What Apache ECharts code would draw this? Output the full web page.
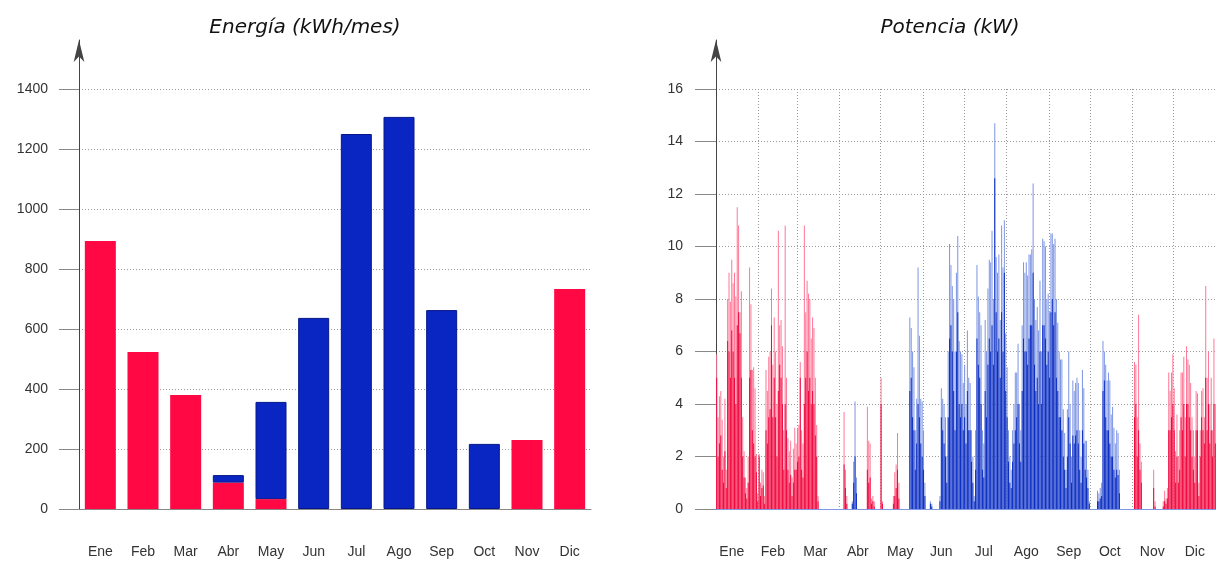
<!DOCTYPE html>
<html>
<head>
<meta charset="utf-8">
<script src="https://cdn.jsdelivr.net/npm/echarts@6/dist/echarts.min.js"></script>
<style>
  html, body { margin: 0; padding: 0; background: #fff; }
  #main { width: 1216px; height: 561px; }
</style>
</head>
<body>
<div id="main"></div>
<script>
// energía mensual (kWh/mes): calefacción (rojo) y refrigeración (azul)
var months = ['Ene', 'Feb', 'Mar', 'Abr', 'May', 'Jun', 'Jul', 'Ago', 'Sep', 'Oct', 'Nov', 'Dic'];
var heatEnergy = [893, 523, 380, 88, 33, 0, 0, 0, 0, 0, 230, 733];
var coolEnergy = [0, 0, 0, 25, 324, 637, 1250, 1307, 663, 217, 0, 0];

// potencia diaria (kW): pico del día y nivel más frecuente
var monthStartDays = [0, 31, 59, 90, 120, 151, 181, 212, 243, 273, 304, 334];
var monthLabelDays = [11, 41, 72, 103, 134, 164, 195, 226, 257, 287, 318, 349];
var coolingSpans = [[99, 103], [139, 300]];

var peakPower = [
  5.9,3.5,4.3,4.5,3.4,2.0,4.2,1.5,8.0,9.0,7.9,9.5,8.6,9.0,8.1,11.5,10.8,7.5,8.3,3.5,2.2,1.2,0.8,2.0,9.2,7.8,5.3,5.4,4.6,2.1,0.6, // Ene
  2.1,1.0,1.5,1.4,0.5,5.3,4.5,5.8,6.0,8.4,5.5,7.3,6.0,4.0,10.6,7.0,7.2,6.2,3.0,10.8,5.0,2.7,2.2,2.6,1.2,2.3,3.1,2.5, // Feb
  3.1,3.2,5.6,3.0,2.5,10.8,7.5,8.7,8.2,8.0,6.5,7.3,6.9,5.0,3.2,0.5,0,0,0,0,0,0,0,0,0,0,0,0,0,0,0, // Mar
  0,0,0,3.7,1.5,0.5,0,0,0,0.3,1.8,4.1,1.2,0,0,0,0,0,0,0,3.9,2.6,2.5,0.4,0.5,0.3,0,0,0,0, // Abr
  5.0,0.3,0,0,0,0,0,0,0,0.5,1.4,1.7,2.9,1.0,0,0,0,0,0,0,0,7.3,6.9,6.0,5.4,3.0,4.2,9.2,6.6,4.2,4.1, // May
  3.0,1.0,0,0,0,0.3,0.2,0,0,0,0,0,0.5,4.6,4.2,4.0,3.5,2.0,6.0,10.1,9.3,8.5,8.0,6.0,9.0,10.4,6.4,6.0,5.9,4.8, // Jun
  5.5,4.0,6.8,5.0,4.8,3.0,2.0,0.5,3.0,9.3,8.1,7.5,7.0,3.0,2.5,7.2,6.0,8.4,9.5,9.4,10.6,8.0,14.7,9.6,9.0,9.7,7.2,10.8,9.2,11.0,6.7, // Jul
  5.4,3.0,2.0,1.5,3.0,4.0,5.2,5.2,6.3,4.0,3.0,7.0,9.4,9.0,9.4,8.9,9.7,9.7,9.9,12.4,8.0,7.2,7.7,6.8,8.7,6.0,10.3,10.2,10.0,8.0,8.2, // Ago
  7.5,10.5,10.5,10.1,10.3,8.0,7.1,6.0,5.7,5.7,3.8,2.9,1.5,3.8,6.0,4.0,2.0,4.9,4.5,4.8,5.0,4.8,3.0,2.0,5.3,4.6,2.6,2.6,1.5,0.3, // Sep
  0,0,0,0,0,0.7,0.6,0.8,1.0,6.4,6.0,5.5,4.9,5.2,4.9,3.6,3.9,3.1,2.5,3.0,2.9,1.5,0,0,0,0,0,0,0,0,0, // Oct
  0,5.6,5.5,3.5,7.4,2.5,1.8,0,0,0,0,0,0,0,0,1.5,0.3,0,0,0,0,0,0.3,0.7,0.4,0.8,5.2,4.5,5.2,5.9, // Nov
  4.6,2.2,3.6,2.0,3.0,5.2,5.2,5.8,3.5,6.2,5.7,5.5,4.8,3.5,3.0,2.0,4.5,4.4,1.0,3.0,4.5,4.6,3.5,8.5,5.0,6.0,4.0,5.0,3.0,6.5,4.0 // Dic
];
var basePower = [
  5.0,2.0,2.5,2.8,1.5,1.0,2.2,0.8,6.4,6.0,5.0,6.8,6.0,5.0,4.0,7.0,7.5,6.7,5.0,2.0,1.2,0.6,0.4,1.0,5.0,5.3,3.0,2.5,2.0,1.4,0.3,
  2.0,0.5,0.8,0.9,0.2,3.0,2.5,3.5,3.8,7.0,3.5,5.0,3.5,2.0,4.5,5.5,5.0,4.0,1.5,4.0,3.0,1.5,1.0,1.3,0.5,1.0,1.5,1.5,
  1.8,2.0,5.0,1.5,1.2,4.0,5.0,6.0,4.5,5.0,4.0,4.5,4.0,2.8,2.0,0.3,0,0,0,0,0,0,0,0,0,0,0,0,0,0,0,
  0,0,0,1.7,0.8,0.2,0,0,0,0.2,1.0,2.0,0.6,0,0,0,0,0,0,0,1.5,1.0,1.2,0.2,0.3,0.1,0,0,0,0,
  4.0,0.2,0,0,0,0,0,0,0,0.2,0.5,0.8,1.5,0.4,0,0,0,0,0,0,0,4.5,5.0,3.5,3.0,1.5,2.5,4.0,3.5,2.5,2.0,
  1.5,0.5,0,0,0,0.2,0.1,0,0,0,0,0,0.3,3.5,3.0,2.5,2.0,1.0,3.5,6.5,7.0,6.0,4.5,3.0,6.0,7.5,4.0,3.5,4.0,3.0,
  3.5,2.5,4.5,3.0,3.0,1.8,1.0,0.3,1.5,6.5,5.5,5.0,4.0,1.5,1.2,4.5,3.5,5.5,6.5,6.0,7.0,5.5,12.6,7.5,6.0,6.5,5.0,7.5,6.0,9.0,4.5,
  3.5,1.8,1.0,0.8,1.8,2.5,3.0,3.5,4.0,2.5,1.8,4.5,6.5,6.0,6.0,5.5,6.5,7.0,7.0,9.0,5.5,4.5,5.0,4.0,6.0,4.0,7.0,7.0,6.5,5.5,6.0,
  5.0,7.5,8.0,7.0,7.5,5.0,4.5,3.5,3.5,3.0,2.0,1.5,0.8,2.0,3.5,2.5,1.0,2.8,2.5,2.8,3.0,2.5,1.5,1.0,3.0,2.5,1.5,1.2,0.8,0.2,
  0,0,0,0,0,0.3,0.3,0.4,0.5,4.5,4.9,3.5,3.0,3.0,2.5,2.0,2.0,1.5,1.2,1.5,1.3,0.6,0,0,0,0,0,0,0,0,0,
  0,3.5,4.0,2.0,3.0,1.5,1.0,0,0,0,0,0,0,0,0,0.8,0.1,0,0,0,0,0,0.1,0.3,0.2,0.4,3.0,3.0,3.5,4.0,
  3.0,1.0,2.0,1.0,1.5,3.5,3.0,4.0,2.0,4.0,4.0,3.5,3.0,2.0,1.5,1.0,3.0,3.0,0.5,2.0,3.5,3.0,2.5,5.0,3.0,4.0,2.5,3.0,2.0,4.0,2.5
];

var days = [];
for (var i = 0; i < peakPower.length; i++) days.push(String(i + 1));

function isCooling(d) {
  return coolingSpans.some(function (s) { return d >= s[0] && d <= s[1]; });
}

var chart = echarts.init(document.getElementById('main'));

var axisFont = { fontFamily: 'Liberation Sans', fontSize: 14, color: '#333' };
var dotted = { color: '#9a9a9a', width: 1, type: [1, 2] };
var titleFont = { fontFamily: 'DejaVu Sans', fontStyle: 'italic', fontWeight: 'normal', fontSize: 20, color: '#111' };
var arrowAxis = {
  type: 'value', min: 0, max: 1,
  axisLine: { show: true, symbol: ['none', 'arrow'], symbolSize: [8, 22], lineStyle: { color: '#444', width: 1 } },
  axisTick: { show: false }, axisLabel: { show: false }, splitLine: { show: false }
};
function plain(v) { return String(v); }

var option = {
  animation: false,
  title: [
    { text: 'Energía (kWh/mes)', left: 300, top: 13, textAlign: 'center', textStyle: titleFont },
    { text: 'Potencia (kW)', left: 945, top: 13, textAlign: 'center', textStyle: titleFont }
  ],
  grid: [
    { left: 79, top: 89, width: 512, height: 420 },
    { left: 79, top: 40, width: 512, height: 469 },
    { left: 716, top: 89, width: 511, height: 420 },
    { left: 716, top: 40, width: 511, height: 469 }
  ],
  xAxis: [
    {
      gridIndex: 0, type: 'category', data: months,
      axisLine: { lineStyle: { color: '#888' } },
      axisTick: { show: false },
      axisLabel: Object.assign({ margin: 36 }, axisFont)
    },
    { gridIndex: 1, type: 'category', data: months, show: false },
    {
      gridIndex: 2, type: 'category', data: days,
      axisLine: { lineStyle: { color: '#7f98e0' } },
      axisTick: { show: false },
      axisLabel: Object.assign({
        margin: 36,
        interval: function (idx) { return monthLabelDays.indexOf(idx) >= 0; },
        formatter: function (v, idx) { return months[monthLabelDays.indexOf(idx)]; }
      }, axisFont),
      splitLine: {
        show: true,
        interval: function (idx) { return monthStartDays.indexOf(idx) > 0; },
        lineStyle: dotted
      }
    },
    { gridIndex: 3, type: 'category', data: days, show: false }
  ],
  yAxis: [
    {
      gridIndex: 0, type: 'value', min: 0, max: 1400, interval: 200,
      axisLine: { show: false },
      axisTick: { show: true, length: 20, lineStyle: { color: '#888' } },
      axisLabel: Object.assign({ margin: 31, formatter: plain }, axisFont),
      splitLine: { lineStyle: dotted }
    },
    Object.assign({ gridIndex: 1 }, arrowAxis),
    {
      gridIndex: 2, type: 'value', min: 0, max: 16, interval: 2,
      axisLine: { show: false },
      axisTick: { show: true, length: 21, lineStyle: { color: '#888' } },
      axisLabel: Object.assign({ margin: 33, formatter: plain }, axisFont),
      splitLine: { lineStyle: dotted }
    },
    Object.assign({ gridIndex: 3 }, arrowAxis)
  ],
  series: [
    {
      name: 'Calefacción', type: 'bar', stack: 'e', xAxisIndex: 0, yAxisIndex: 0,
      barWidth: 31,
      data: heatEnergy.map(function (v) { return v || null; }),
      itemStyle: { color: '#ff0844' }
    },
    {
      name: 'Refrigeración', type: 'bar', stack: 'e', xAxisIndex: 0, yAxisIndex: 0,
      barWidth: 31,
      data: coolEnergy.map(function (v) { return v || null; }),
      itemStyle: { color: '#0a26c2', borderColor: '#07178a', borderWidth: 1 }
    },
    {
      name: 'Pico', type: 'bar', xAxisIndex: 2, yAxisIndex: 2,
      barWidth: 1, barGap: '-100%',
      data: peakPower,
      itemStyle: { color: function (p) { return isCooling(p.dataIndex) ? '#7d95e3' : '#ff7796'; } }
    },
    {
      name: 'Base', type: 'bar', xAxisIndex: 2, yAxisIndex: 2,
      barWidth: 1, barGap: '-100%',
      data: basePower,
      itemStyle: { color: function (p) { return isCooling(p.dataIndex) ? '#0c2dc2' : '#f0083e'; } }
    }
  ]
};

chart.setOption(option);
</script>
</body>
</html>
